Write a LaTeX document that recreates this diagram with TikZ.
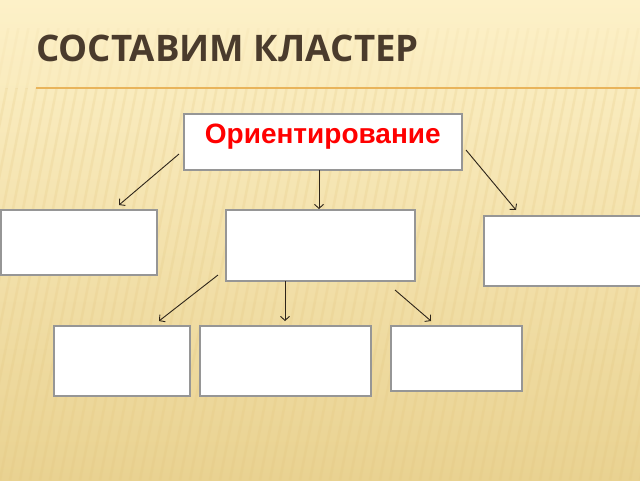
\documentclass[tikz,border=0pt]{standalone}
\usepackage{fontspec}
\setmainfont{Liberation Sans}
\newfontfamily\titlefont{Open Sans}
\usetikzlibrary{arrows.meta}
\definecolor{paper top}{HTML}{FDF1C8}
\definecolor{paper bottom}{HTML}{E9D291}
\definecolor{stripe}{HTML}{E2C37A}
\definecolor{title brown}{HTML}{4A3B2C}
\definecolor{rule orange}{HTML}{E9B45A}
\definecolor{box gray}{HTML}{969696}
\definecolor{link brown}{HTML}{2E251A}
\tikzset{
	box/.style = {draw = box gray, line width = 1.6pt, fill = white, anchor = north west, inner sep = 0pt},
	link/.style = {draw = link brown, line width = 0.9pt, -{Straight Barb[length = 4pt, width = 9pt]}},
}

\begin{document}
\begin{tikzpicture}[x = 1pt, y = -1pt]
		\useasboundingbox (0,0) rectangle (640,480);
		\shade [top color = paper top, bottom color = paper bottom] (0,0) rectangle (640,480);
		\begin{scope}
			\clip (0,28) rectangle (640,88);
			\foreach \x in {-300,-290,...,700}{
					\draw [stripe, opacity = 0.08, line width = 2.5pt](\x,480) --++(90, -460);
				}
		\end{scope}
		\begin{scope}
			\clip (0,88) rectangle (640,480);
			\foreach \x in {-300,-290,...,700}{
					\draw [stripe, opacity = 0.2, line width = 2.5pt](\x,480) --++(90, -460);
				}
		\end{scope}
		%
		\node [anchor = base west, inner sep = 0pt, text = title brown, font = \titlefont\bfseries\fontsize{36.6}{40}\selectfont] (title) at (36,61){СОСТАВИМ КЛАСТЕР};
		\draw [rule orange, line width = 1.3pt](36,88) -- (640,88);
		%
		\node [box, minimum width = 278pt, minimum height = 56pt] (orient) at (183,113){};
		\node [anchor = base, text = red, font = \bfseries\fontsize{28}{30}\selectfont] (orientname) at (orient.north |- 0,143){Ориентирование};
		%
		\node [box, minimum width = 156pt, minimum height = 65pt] (left) at (0,209){};
		\node [box, minimum width = 189pt, minimum height = 71pt] (middle) at (225,209){};
		\node [box, minimum width = 157pt, minimum height = 70pt] (right) at (483,215){};
		%
		\node [box, minimum width = 136pt, minimum height = 70pt] (leftsub) at (53,325){};
		\node [box, minimum width = 171pt, minimum height = 70pt] (middlesub) at (199,325){};
		\node [box, minimum width = 131pt, minimum height = 65pt] (rightsub) at (390,325){};
		%
		\coordinate (a1) at (179,154);
		\coordinate (b1) at (119,205);
		\coordinate (a2) at (319,170);
		\coordinate (b2) at (319,209);
		\coordinate (a3) at (466,150);
		\coordinate (b3) at (516,210);
		\coordinate (a4) at (218,275);
		\coordinate (b4) at (159,321);
		\coordinate (a5) at (285,281);
		\coordinate (b5) at (285,321);
		\coordinate (a6) at (395,290);
		\coordinate (b6) at (431,321);
		\foreach \i in {1,...,6}{
				\draw [link](a\i) -- (b\i);
			}
	\end{tikzpicture}
\end{document}
